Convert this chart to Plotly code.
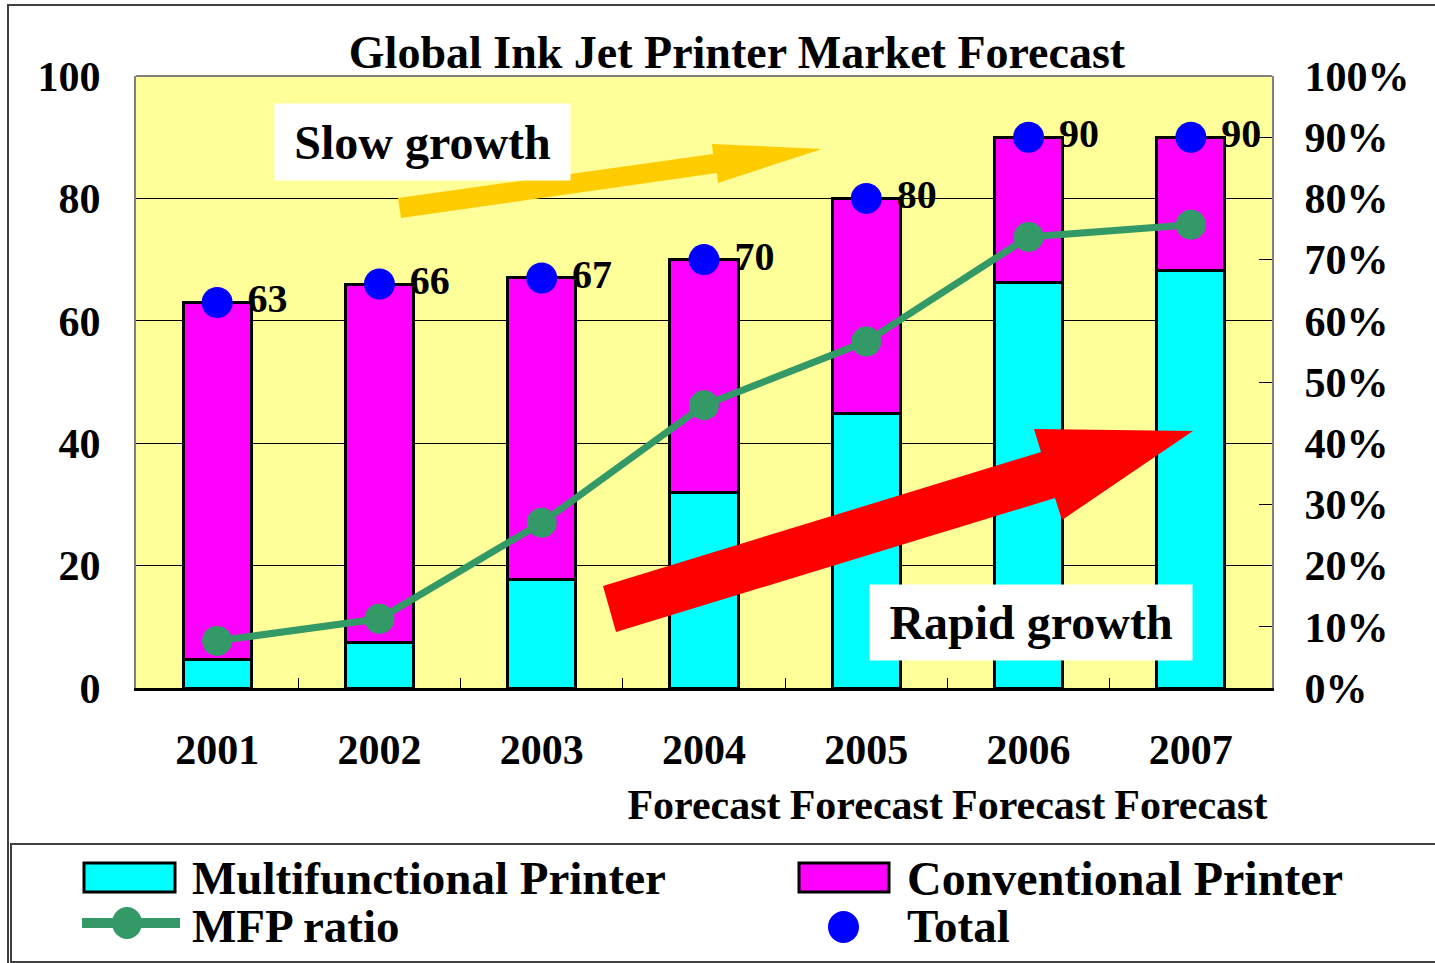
import plotly.graph_objects as go

# ---------------- data ----------------
years = ["2001", "2002", "2003", "2004", "2005", "2006", "2007"]
year_labels = ["2001", "2002", "2003", "2004<br>Forecast", "2005<br>Forecast",
               "2006<br>Forecast", "2007<br>Forecast"]
mfp = [4.7, 7.4, 17.8, 31.9, 44.9, 66.2, 68.3]
conventional = [58.3, 58.6, 49.2, 38.1, 35.1, 23.8, 21.7]
total = [63, 66, 67, 70, 80, 90, 90]
mfp_ratio = [0.077, 0.113, 0.270, 0.462, 0.566, 0.737, 0.757]
left_ticks = [0, 20, 40, 60, 80, 100]
right_ticks = [0, 0.1, 0.2, 0.3, 0.4, 0.5, 0.6, 0.7, 0.8, 0.9, 1.0]

# ---------------- geometry helpers ----------------
W, H = 1435, 963
L, R, T, B = 136, 1272, 76, 688


def px(x):
    return (x - L) / (R - L)


def py(y):
    return (B - y) / (B - T)


FONT = "Liberation Serif, Times New Roman, serif"

fig = go.Figure()
fig.add_trace(go.Bar(x=years, y=mfp, name="Multifunctional Printer", width=0.42,
                     marker=dict(color="#00FFFF", line=dict(color="black", width=3))))
fig.add_trace(go.Bar(x=years, y=conventional, name="Conventional Printer", width=0.42,
                     marker=dict(color="#FF00FF", line=dict(color="black", width=3))))
fig.add_trace(go.Scatter(x=years, y=total, name="Total", mode="markers+text",
                         marker=dict(color="#0000FF", size=31),
                         text=["\u00a0" + str(v) for v in total], textposition="middle right",
                         textfont=dict(family=FONT, size=40, color="black", weight="bold"),
                         cliponaxis=False))
fig.add_trace(go.Scatter(x=years, y=mfp_ratio, name="MFP ratio", mode="lines+markers",
                         yaxis="y2", line=dict(color="#339966", width=7),
                         marker=dict(color="#339966", size=30)))


def poly(points):
    return "M " + " L ".join(f"{px(x):.5f},{py(y):.5f}" for x, y in points) + " Z"


shapes = []
# arrows
gold = [(398, 198), (713, 154), (712, 144), (822, 149), (718, 183), (717, 173), (401, 218)]
red = [(603, 586), (1041, 452), (1034, 429), (1193, 431), (1062, 520), (1055, 498), (616, 632)]
shapes.append(dict(type="path", xref="paper", yref="paper", path=poly(gold),
                   fillcolor="#FFCC00", line=dict(width=0), layer="above"))
shapes.append(dict(type="path", xref="paper", yref="paper", path=poly(red),
                   fillcolor="#FF0000", line=dict(width=0), layer="above"))
# top border of plot
shapes.append(dict(type="line", xref="paper", yref="paper", x0=0, x1=1, y0=1, y1=1,
                   line=dict(color="#808080", width=2), layer="above"))
# outer frame & legend box
shapes.append(dict(type="rect", xref="paper", yref="paper", x0=px(8), x1=px(1450),
                   y0=py(975), y1=py(5), line=dict(color="#404040", width=2)))
shapes.append(dict(type="rect", xref="paper", yref="paper", x0=px(11), x1=px(1450),
                   y0=py(962), y1=py(844), line=dict(color="#404040", width=2)))
# legend symbols
shapes.append(dict(type="rect", xref="paper", yref="paper", x0=px(84), x1=px(175),
                   y0=py(892), y1=py(863), fillcolor="#00FFFF", line=dict(color="black", width=3)))
shapes.append(dict(type="rect", xref="paper", yref="paper", x0=px(799), x1=px(889),
                   y0=py(892), y1=py(863), fillcolor="#FF00FF", line=dict(color="black", width=3)))
shapes.append(dict(type="line", xref="paper", yref="paper", x0=px(82), x1=px(180),
                   y0=py(923), y1=py(923), line=dict(color="#339966", width=10)))
shapes.append(dict(type="circle", xref="paper", yref="paper", x0=px(112), x1=px(142),
                   y0=py(939), y1=py(907), fillcolor="#339966", line=dict(width=0)))
shapes.append(dict(type="circle", xref="paper", yref="paper", x0=px(828), x1=px(859),
                   y0=py(943), y1=py(911), fillcolor="#0000FF", line=dict(width=0)))

annotations = []


def ann(text, x, y, size, xanchor="center", **kw):
    d = dict(text=text, xref="paper", yref="paper", x=px(x), y=py(y), xanchor=xanchor,
             yanchor="middle", showarrow=False,
             font=dict(family=FONT, size=size, color="black", weight="bold"))
    d.update(kw)
    annotations.append(d)


ann("Slow growth", 422.5, 142, 48, bgcolor="white", width=295, height=76, borderpad=0)
ann("Rapid growth", 1031, 622.5, 48, bgcolor="white", width=322, height=75, borderpad=0)
ann("Multifunctional Printer", 190, 878, 47, xanchor="left")
ann("MFP ratio", 190, 926, 47, xanchor="left")
ann("Conventional Printer", 905, 878, 48, xanchor="left")
ann("Total", 905, 926, 47, xanchor="left")

tickfont = dict(family=FONT, size=42, color="black", weight="bold")

fig.update_layout(
    width=W, height=H,
    margin=dict(l=L, r=W - R, t=T, b=H - B, pad=0),
    paper_bgcolor="white", plot_bgcolor="#FFFF99",
    barmode="stack", showlegend=False,
    title=dict(text="Global Ink Jet Printer Market Forecast", x=737 / W, y=1 - 52 / H,
               xanchor="center", yanchor="middle", xref="container", yref="container",
               font=dict(family=FONT, size=46, color="black", weight="bold")),
    xaxis=dict(type="category", range=[-0.5, 6.5], tickmode="array", tickvals=years,
               ticktext=year_labels, tickson="boundaries", ticks="inside", ticklen=10,
               tickcolor="black", showline=True, linecolor="black", linewidth=3,
               showgrid=False, tickfont=tickfont, ticklabelstandoff=23),
    yaxis=dict(range=[0, 100], tickmode="array", tickvals=left_ticks, ticks="inside",
               ticklen=12, tickcolor="black", showgrid=True, gridcolor="black", gridwidth=1,
               showline=True, linecolor="#808080", linewidth=2, zeroline=False,
               tickfont=tickfont, ticklabelstandoff=25),
    yaxis2=dict(range=[0, 1], overlaying="y", side="right", tickmode="array",
                tickvals=right_ticks, tickformat=".0%", ticks="inside", ticklen=13,
                tickcolor="black", showgrid=False, showline=True, linecolor="#808080",
                linewidth=2, zeroline=False, tickfont=tickfont, ticklabelstandoff=22),
    shapes=shapes, annotations=annotations,
)

fig.write_html("out.html")
